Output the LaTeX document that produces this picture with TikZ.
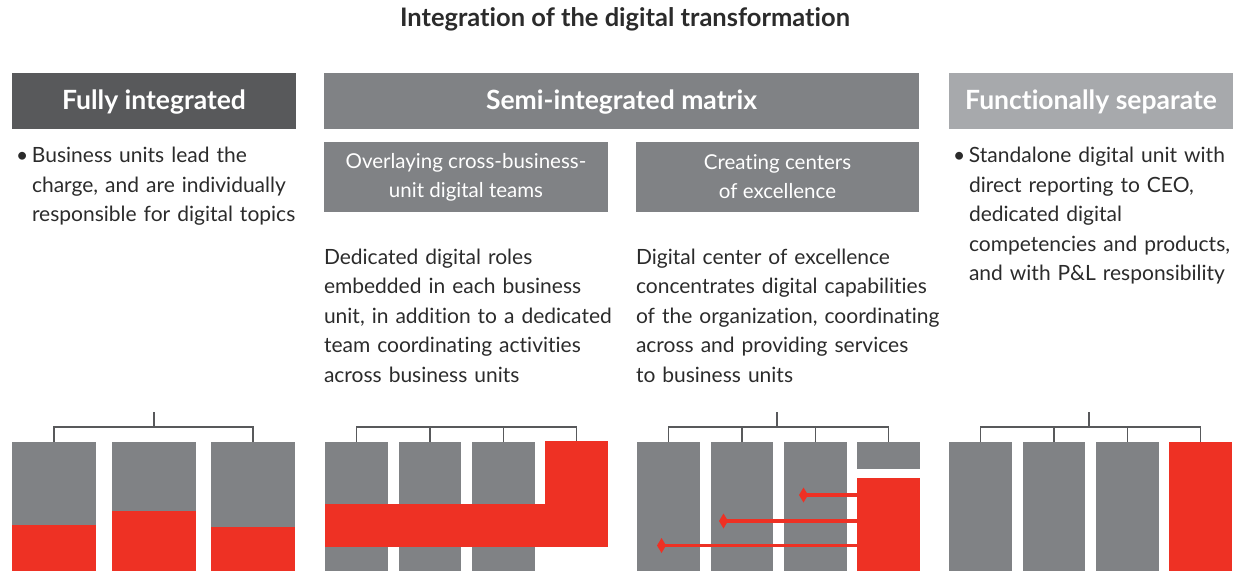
\documentclass[tikz,border=0pt]{standalone}
\usepackage{fontspec}
\setmainfont{Lato}[Ligatures=NoCommon]
\usetikzlibrary{arrows.meta}
\definecolor{dkgray}{HTML}{58595B}
\definecolor{mdgray}{HTML}{808285}
\definecolor{ltgray}{HTML}{A7A9AC}
\definecolor{bred}{HTML}{EE3124}
\definecolor{txt}{HTML}{2B2B2B}
\newcommand{\bul}{\llap{\makebox[16pt][l]{•}}}
\begin{document}
\begin{tikzpicture}[x=1pt,y=-1pt,
  blk/.style={draw=none,inner sep=0pt,outer sep=0pt,anchor=north west},
  hdr/.style={blk,text=white,font=\fontsize{26.5}{30}\selectfont\bfseries,
    minimum height=56pt,text height=36pt,text depth=20pt},
  sub/.style={blk,fill=mdgray,text=white,align=center,minimum height=70pt,
    font=\fontsize{20.5}{29}\selectfont},
  body/.style={inner sep=0pt,outer sep=0pt,anchor=base west,align=left,text=txt,
    font=\fontsize{21}{29.5}\selectfont},
  tree/.style={draw=dkgray,line width=1.4pt},
  redarrow/.style={draw=bred,line width=3.4pt,-{Diamond[length=9pt,width=15pt]}},
]
\useasboundingbox (0,0) rectangle (1236,571);

% title
\node[anchor=base,text=txt,font=\fontsize{25.5}{30}\selectfont\bfseries] (title) at (625,26)
  {Integration of the digital transformation};

% headers
\node[hdr,fill=dkgray,minimum width=284pt] (h1) at (12,73) {Fully integrated};
\node[hdr,fill=mdgray,minimum width=595pt] (h2) at (324,73) {Semi-integrated matrix};
\node[hdr,fill=ltgray,minimum width=284pt] (h3) at (949,73) {Functionally separate};

% sub headers
\node[sub,minimum width=284pt] (s1) at (324,142) {Overlaying cross-business-\\unit digital teams};
\node[sub,minimum width=283pt] (s2) at (636,142) {Creating centers\\of excellence};

% bullet texts
\node[body,text width=270pt] (t1) at (32,162.7)
  {\bul Business units lead the\\charge, and are individually\\responsible for digital topics};
\node[body,text width=270pt] (t4) at (969,162.7)
  {\bul Standalone digital unit with\\direct reporting to CEO,\\dedicated digital\\competencies and products,\\and with P\&L responsibility};

% descriptions
\node[body,text width=300pt] (t2) at (324,264)
  {Dedicated digital roles\\embedded in each business\\unit, in addition to a dedicated\\team coordinating activities\\across business units};
\node[body,text width=310pt] (t3) at (636,264)
  {Digital center of excellence\\concentrates digital capabilities\\of the organization, coordinating\\across and providing services\\to business units};

% ---- column 1: fully integrated
\node[blk,fill=mdgray,minimum width=84pt,minimum height=129pt] (a1) at (12,442) {};
\node[blk,fill=mdgray,minimum width=84pt,minimum height=129pt] (a2) at (112,442) {};
\node[blk,fill=mdgray,minimum width=84pt,minimum height=129pt] (a3) at (211,442) {};
\node[blk,fill=bred,minimum width=84pt,minimum height=46pt] (ar1) at (12,525) {};
\node[blk,fill=bred,minimum width=84pt,minimum height=60pt] (ar2) at (112,511) {};
\node[blk,fill=bred,minimum width=84pt,minimum height=44pt] (ar3) at (211,527) {};
\coordinate (ta) at (154,412);
\coordinate (ha) at (154,427);
\draw[tree] (ta) -- (ha);
\draw[tree] (a1.north) |- (ha) -| (a3.north);

% ---- column 2: semi-integrated, overlay teams
\node[blk,fill=mdgray,minimum width=63pt,minimum height=129pt] (b1) at (325,442) {};
\node[blk,fill=mdgray,minimum width=62pt,minimum height=129pt] (b2) at (399,442) {};
\node[blk,fill=mdgray,minimum width=63pt,minimum height=129pt] (b3) at (472,442) {};
\node[blk,fill=bred,minimum width=63pt,minimum height=106pt] (b4) at (545,441) {};
\node[blk,fill=bred,minimum width=283pt,minimum height=43pt] (bband) at (325,504) {};
\coordinate (hb) at (430,427);
\draw[tree] (b1.north) |- (hb) -| (b4.north);
\draw[tree] (b2.north) -- (b2.north|-hb);
\draw[tree] (b3.north) -- (b3.north|-hb);

% ---- column 3: centers of excellence
\node[blk,fill=mdgray,minimum width=63pt,minimum height=129pt] (c1) at (637,442) {};
\node[blk,fill=mdgray,minimum width=62pt,minimum height=129pt] (c2) at (711,442) {};
\node[blk,fill=mdgray,minimum width=63pt,minimum height=129pt] (c3) at (784,442) {};
\node[blk,fill=mdgray,minimum width=63pt,minimum height=27pt] (c4) at (857,442) {};
\node[blk,fill=bred,minimum width=63pt,minimum height=93pt] (cr) at (857,478) {};
\coordinate (tc) at (777,412);
\coordinate (hc) at (777,427);
\draw[tree] (tc) -- (hc);
\draw[tree] (c1.north) |- (hc) -| (c4.north);
\draw[tree] (c2.north) -- (c2.north|-hc);
\draw[tree] (c3.north) -- (c3.north|-hc);
\coordinate (d1) at (799,495);
\coordinate (d2) at (719,521);
\coordinate (d3) at (657,545.5);
\draw[redarrow] (cr.west|-d1) -- (d1);
\draw[redarrow] (cr.west|-d2) -- (d2);
\draw[redarrow] (cr.west|-d3) -- (d3);

% ---- column 4: functionally separate
\node[blk,fill=mdgray,minimum width=63pt,minimum height=129pt] (e1) at (949,442) {};
\node[blk,fill=mdgray,minimum width=62pt,minimum height=129pt] (e2) at (1023,442) {};
\node[blk,fill=mdgray,minimum width=63pt,minimum height=129pt] (e3) at (1096,442) {};
\node[blk,fill=bred,minimum width=63pt,minimum height=129pt] (e4) at (1169,442) {};
\coordinate (te) at (1089,412);
\coordinate (he) at (1089,427);
\draw[tree] (te) -- (he);
\draw[tree] (e1.north) |- (he) -| (e4.north);
\draw[tree] (e2.north) -- (e2.north|-he);
\draw[tree] (e3.north) -- (e3.north|-he);
\end{tikzpicture}
\end{document}
